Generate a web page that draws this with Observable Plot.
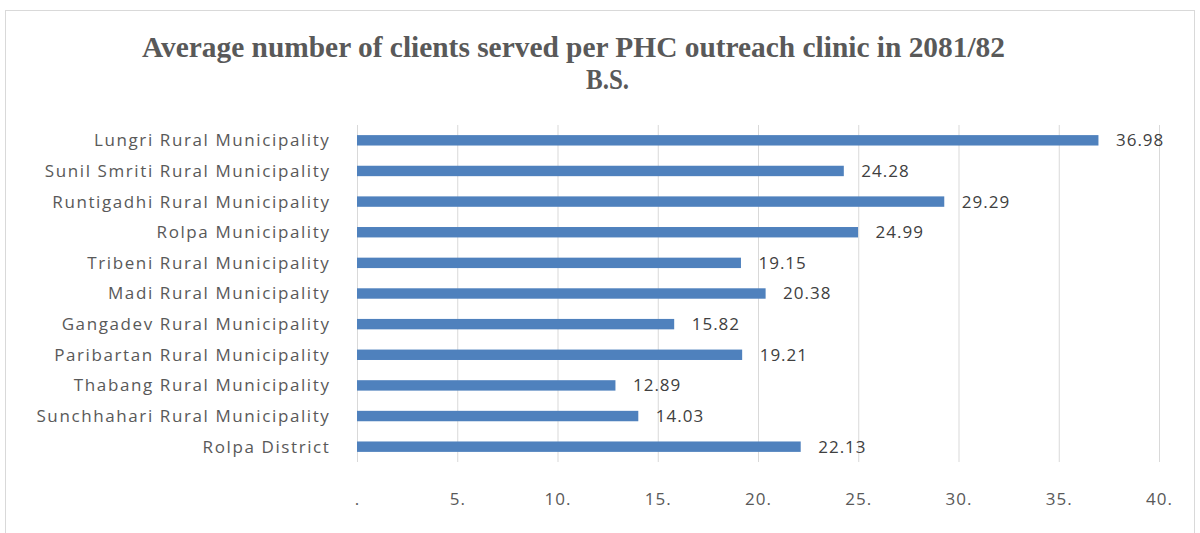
<!DOCTYPE html>
<html>
<head>
<meta charset="utf-8">
<script src="https://cdn.jsdelivr.net/npm/d3@7"></script>
<script src="https://cdn.jsdelivr.net/npm/@observablehq/plot@0.6"></script>
<style>
  html, body { margin: 0; padding: 0; background: #fff; }
  #wrap { position: relative; width: 1200px; height: 533px; overflow: hidden; }
  #frame { position: absolute; left: 5px; top: 10px; width: 1190px; height: 530px; border: 1px solid #d9d9d9; box-sizing: border-box; }
  #title { position: absolute; left: 0; top: 0; }
  #chart { position: absolute; left: 0; top: 0; }
  #chart g[aria-label="y-axis tick label"] { letter-spacing: 1.6px; }
</style>
</head>
<body>
<div id="wrap">
  <div id="frame"></div>
  <div id="chart"></div>
  <svg id="title" width="1200" height="110" xmlns="http://www.w3.org/2000/svg">
    <text x="142" y="57" font-family="Liberation Serif, serif" font-weight="bold" font-size="29" fill="#595959" textLength="863" lengthAdjust="spacingAndGlyphs">Average number of clients served per PHC outreach clinic in 2081/82</text>
    <text x="586" y="89" font-family="Liberation Serif, serif" font-weight="bold" font-size="29" fill="#595959" textLength="43" lengthAdjust="spacingAndGlyphs">B.S.</text>
  </svg>
</div>
<script>
const categories = [
  "Lungri Rural Municipality",
  "Sunil Smriti Rural Municipality",
  "Runtigadhi Rural Municipality",
  "Rolpa Municipality",
  "Tribeni Rural Municipality",
  "Madi Rural Municipality",
  "Gangadev Rural Municipality",
  "Paribartan Rural Municipality",
  "Thabang Rural Municipality",
  "Sunchhahari Rural Municipality",
  "Rolpa District"
];
const values = [36.98, 24.28, 29.29, 24.99, 19.15, 20.38, 15.82, 19.21, 12.89, 14.03, 22.13];
const xTicks = [0, 5, 10, 15, 20, 25, 30, 35, 40];

const data = categories.map((c, i) => ({name: c, value: values[i]}));

const chart = Plot.plot({
  width: 1200,
  height: 533,
  marginTop: 125,
  marginBottom: 71,
  marginLeft: 357,
  marginRight: 41,
  style: {fontFamily: "'Open Sans', sans-serif", fontSize: "17px", color: "#595959", background: "transparent", letterSpacing: "1px"},
  x: {domain: [0, 40], ticks: xTicks, tickFormat: d => d === 0 ? "." : d + ".", tickSize: 0, tickPadding: 30, label: null},
  y: {domain: categories, paddingInner: 0.66, paddingOuter: 0.33, round: false, tickSize: 0, tickPadding: 27, label: null},
  marks: [
    Plot.ruleX(xTicks, {stroke: "#d9d9d9", strokeWidth: 1}),
    Plot.barX(data, {x: "value", y: "name", fill: "#4f81bd"}),
    Plot.text(data, {x: "value", y: "name", text: d => d.value.toFixed(2), textAnchor: "start", dx: 17, fill: "#404040", fontSize: 17})
  ]
});
document.getElementById("chart").appendChild(chart);
</script>
</body>
</html>
